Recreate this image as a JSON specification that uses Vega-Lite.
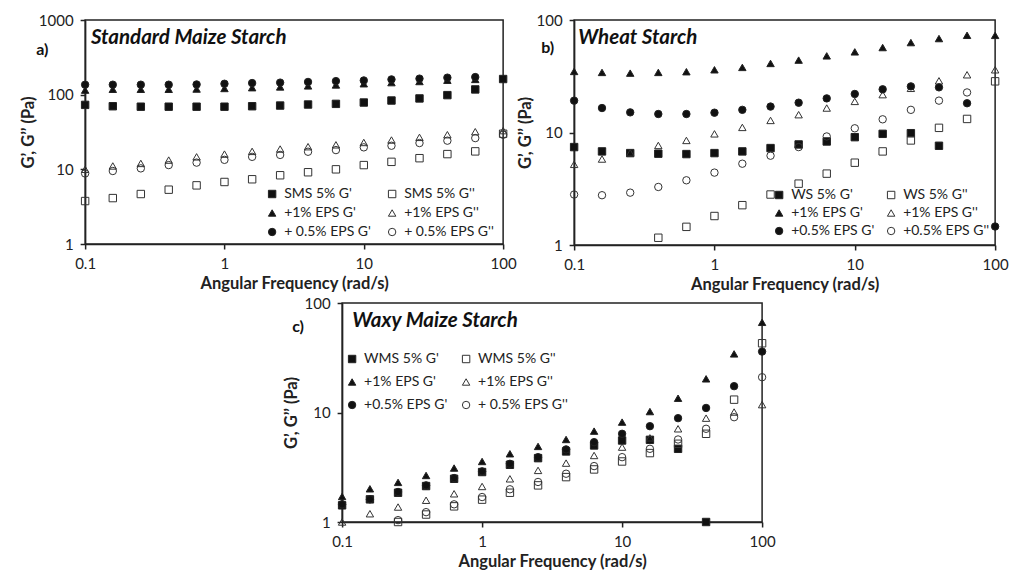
{
"$schema": "https://vega.github.io/schema/vega-lite/v6.json",
"padding": {"left": 19, "top": 12, "right": 5, "bottom": 3},
"config": {
  "font": "Lato",
  "view": {"stroke": "#222", "strokeWidth": 1.5},
  "axis": {"grid": false, "domainColor": "#222", "domainWidth": 1.5, "tickColor": "#222", "tickWidth": 1.5, "tickSize": 5, "labelFont": "Lato", "labelFontSize": 15, "labelColor": "#222", "labelPadding": 7, "titleFont": "Lato", "titleFontSize": 16.5, "titleFontWeight": "bold", "titleColor": "#222", "labelFlush": false, "labelOverlap": false},
  "legend": {"orient": "none", "columns": 2, "title": null, "labelFont": "Lato", "labelFontSize": 14, "labelColor": "#222", "symbolSize": 55, "symbolStrokeColor": "#222", "symbolStrokeWidth": 1, "labelOffset": 5, "rowPadding": 5}
},
"datasets": {
  "a": [
    {"f":0.1,"v":73,"s":"SMS 5% G'"},{"f":0.158,"v":70,"s":"SMS 5% G'"},{"f":0.251,"v":69,"s":"SMS 5% G'"},{"f":0.398,"v":69,"s":"SMS 5% G'"},{"f":0.631,"v":69,"s":"SMS 5% G'"},{"f":1,"v":69,"s":"SMS 5% G'"},{"f":1.58,"v":70,"s":"SMS 5% G'"},{"f":2.51,"v":71.5,"s":"SMS 5% G'"},{"f":3.98,"v":73.8,"s":"SMS 5% G'"},{"f":6.31,"v":75.3,"s":"SMS 5% G'"},{"f":10,"v":78.5,"s":"SMS 5% G'"},{"f":15.8,"v":83.5,"s":"SMS 5% G'"},{"f":25.1,"v":89,"s":"SMS 5% G'"},{"f":39.8,"v":98.6,"s":"SMS 5% G'"},{"f":63.1,"v":117.5,"s":"SMS 5% G'"},{"f":100,"v":162,"s":"SMS 5% G'"},
    {"f":0.1,"v":3.76,"s":"SMS 5% G''"},{"f":0.158,"v":4.12,"s":"SMS 5% G''"},{"f":0.251,"v":4.67,"s":"SMS 5% G''"},{"f":0.398,"v":5.34,"s":"SMS 5% G''"},{"f":0.631,"v":6.1,"s":"SMS 5% G''"},{"f":1,"v":6.77,"s":"SMS 5% G''"},{"f":1.58,"v":7.36,"s":"SMS 5% G''"},{"f":2.51,"v":8.33,"s":"SMS 5% G''"},{"f":3.98,"v":9.14,"s":"SMS 5% G''"},{"f":6.31,"v":10,"s":"SMS 5% G''"},{"f":10,"v":11.4,"s":"SMS 5% G''"},{"f":15.8,"v":12.6,"s":"SMS 5% G''"},{"f":25.1,"v":14.1,"s":"SMS 5% G''"},{"f":39.8,"v":16,"s":"SMS 5% G''"},{"f":63.1,"v":17.4,"s":"SMS 5% G''"},{"f":100,"v":30,"s":"SMS 5% G''"},
    {"f":0.1,"v":115,"s":"+1% EPS G'"},{"f":0.158,"v":118,"s":"+1% EPS G'"},{"f":0.251,"v":118,"s":"+1% EPS G'"},{"f":0.398,"v":118,"s":"+1% EPS G'"},{"f":0.631,"v":119,"s":"+1% EPS G'"},{"f":1,"v":121,"s":"+1% EPS G'"},{"f":1.58,"v":124,"s":"+1% EPS G'"},{"f":2.51,"v":127,"s":"+1% EPS G'"},{"f":3.98,"v":131,"s":"+1% EPS G'"},{"f":6.31,"v":135,"s":"+1% EPS G'"},{"f":10,"v":140,"s":"+1% EPS G'"},{"f":15.8,"v":145,"s":"+1% EPS G'"},{"f":25.1,"v":150,"s":"+1% EPS G'"},{"f":39.8,"v":156,"s":"+1% EPS G'"},{"f":63.1,"v":160,"s":"+1% EPS G'"},
    {"f":0.1,"v":10,"s":"+1% EPS G''"},{"f":0.158,"v":11.1,"s":"+1% EPS G''"},{"f":0.251,"v":12,"s":"+1% EPS G''"},{"f":0.398,"v":13.3,"s":"+1% EPS G''"},{"f":0.631,"v":14.7,"s":"+1% EPS G''"},{"f":1,"v":16,"s":"+1% EPS G''"},{"f":1.58,"v":17.4,"s":"+1% EPS G''"},{"f":2.51,"v":18.7,"s":"+1% EPS G''"},{"f":3.98,"v":20.1,"s":"+1% EPS G''"},{"f":6.31,"v":21.3,"s":"+1% EPS G''"},{"f":10,"v":22.9,"s":"+1% EPS G''"},{"f":15.8,"v":24.7,"s":"+1% EPS G''"},{"f":25.1,"v":26.8,"s":"+1% EPS G''"},{"f":39.8,"v":29.1,"s":"+1% EPS G''"},{"f":63.1,"v":31.9,"s":"+1% EPS G''"},{"f":100,"v":33,"s":"+1% EPS G''"},
    {"f":0.1,"v":136,"s":"+ 0.5% EPS G'"},{"f":0.158,"v":136,"s":"+ 0.5% EPS G'"},{"f":0.251,"v":136,"s":"+ 0.5% EPS G'"},{"f":0.398,"v":136,"s":"+ 0.5% EPS G'"},{"f":0.631,"v":137,"s":"+ 0.5% EPS G'"},{"f":1,"v":140,"s":"+ 0.5% EPS G'"},{"f":1.58,"v":143,"s":"+ 0.5% EPS G'"},{"f":2.51,"v":145,"s":"+ 0.5% EPS G'"},{"f":3.98,"v":148,"s":"+ 0.5% EPS G'"},{"f":6.31,"v":152,"s":"+ 0.5% EPS G'"},{"f":10,"v":155,"s":"+ 0.5% EPS G'"},{"f":15.8,"v":160,"s":"+ 0.5% EPS G'"},{"f":25.1,"v":164,"s":"+ 0.5% EPS G'"},{"f":39.8,"v":169,"s":"+ 0.5% EPS G'"},{"f":63.1,"v":172,"s":"+ 0.5% EPS G'"},
    {"f":0.1,"v":8.8,"s":"+ 0.5% EPS G''"},{"f":0.158,"v":9.5,"s":"+ 0.5% EPS G''"},{"f":0.251,"v":10.3,"s":"+ 0.5% EPS G''"},{"f":0.398,"v":11.4,"s":"+ 0.5% EPS G''"},{"f":0.631,"v":12.3,"s":"+ 0.5% EPS G''"},{"f":1,"v":13.4,"s":"+ 0.5% EPS G''"},{"f":1.58,"v":14.7,"s":"+ 0.5% EPS G''"},{"f":2.51,"v":15.6,"s":"+ 0.5% EPS G''"},{"f":3.98,"v":17.2,"s":"+ 0.5% EPS G''"},{"f":6.31,"v":18.1,"s":"+ 0.5% EPS G''"},{"f":10,"v":19.7,"s":"+ 0.5% EPS G''"},{"f":15.8,"v":20.7,"s":"+ 0.5% EPS G''"},{"f":25.1,"v":22.5,"s":"+ 0.5% EPS G''"},{"f":39.8,"v":24.2,"s":"+ 0.5% EPS G''"},{"f":63.1,"v":26.2,"s":"+ 0.5% EPS G''"},{"f":100,"v":29,"s":"+ 0.5% EPS G''"}
  ],
  "b": [
    {"f":0.1,"v":7.42,"s":"WS 5% G'"},{"f":0.158,"v":6.79,"s":"WS 5% G'"},{"f":0.251,"v":6.56,"s":"WS 5% G'"},{"f":0.398,"v":6.48,"s":"WS 5% G'"},{"f":0.631,"v":6.43,"s":"WS 5% G'"},{"f":1,"v":6.56,"s":"WS 5% G'"},{"f":1.58,"v":6.79,"s":"WS 5% G'"},{"f":2.51,"v":7.27,"s":"WS 5% G'"},{"f":3.98,"v":7.83,"s":"WS 5% G'"},{"f":6.31,"v":8.32,"s":"WS 5% G'"},{"f":10,"v":9.09,"s":"WS 5% G'"},{"f":15.8,"v":9.73,"s":"WS 5% G'"},{"f":25.1,"v":9.86,"s":"WS 5% G'"},{"f":39.8,"v":7.62,"s":"WS 5% G'"},
    {"f":0.398,"v":1.16,"s":"WS 5% G''"},{"f":0.631,"v":1.45,"s":"WS 5% G''"},{"f":1,"v":1.81,"s":"WS 5% G''"},{"f":1.58,"v":2.26,"s":"WS 5% G''"},{"f":2.51,"v":2.81,"s":"WS 5% G''"},{"f":3.98,"v":3.51,"s":"WS 5% G''"},{"f":6.31,"v":4.31,"s":"WS 5% G''"},{"f":10,"v":5.39,"s":"WS 5% G''"},{"f":15.8,"v":6.79,"s":"WS 5% G''"},{"f":25.1,"v":8.5,"s":"WS 5% G''"},{"f":39.8,"v":11,"s":"WS 5% G''"},{"f":63.1,"v":13.2,"s":"WS 5% G''"},{"f":100,"v":28.5,"s":"WS 5% G''"},
    {"f":0.1,"v":34.9,"s":"+1% EPS G'"},{"f":0.158,"v":34.2,"s":"+1% EPS G'"},{"f":0.251,"v":33.7,"s":"+1% EPS G'"},{"f":0.398,"v":34.2,"s":"+1% EPS G'"},{"f":0.631,"v":34.7,"s":"+1% EPS G'"},{"f":1,"v":36.1,"s":"+1% EPS G'"},{"f":1.58,"v":37.9,"s":"+1% EPS G'"},{"f":2.51,"v":41.1,"s":"+1% EPS G'"},{"f":3.98,"v":44,"s":"+1% EPS G'"},{"f":6.31,"v":48,"s":"+1% EPS G'"},{"f":10,"v":52.1,"s":"+1% EPS G'"},{"f":15.8,"v":56.9,"s":"+1% EPS G'"},{"f":25.1,"v":63,"s":"+1% EPS G'"},{"f":39.8,"v":68.4,"s":"+1% EPS G'"},{"f":63.1,"v":73.1,"s":"+1% EPS G'"},{"f":100,"v":73,"s":"+1% EPS G'"},
    {"f":0.1,"v":5.21,"s":" +1% EPS G''"},{"f":0.158,"v":5.81,"s":" +1% EPS G''"},{"f":0.251,"v":6.6,"s":" +1% EPS G''"},{"f":0.398,"v":7.67,"s":" +1% EPS G''"},{"f":0.631,"v":8.5,"s":" +1% EPS G''"},{"f":1,"v":9.73,"s":" +1% EPS G''"},{"f":1.58,"v":11.1,"s":" +1% EPS G''"},{"f":2.51,"v":12.8,"s":" +1% EPS G''"},{"f":3.98,"v":14.4,"s":" +1% EPS G''"},{"f":6.31,"v":16.5,"s":" +1% EPS G''"},{"f":10,"v":18.9,"s":" +1% EPS G''"},{"f":15.8,"v":21.7,"s":" +1% EPS G''"},{"f":25.1,"v":24.7,"s":" +1% EPS G''"},{"f":39.8,"v":28.8,"s":" +1% EPS G''"},{"f":63.1,"v":32.6,"s":" +1% EPS G''"},{"f":100,"v":36.1,"s":" +1% EPS G''"},
    {"f":0.1,"v":19.2,"s":"+0.5% EPS G'"},{"f":0.158,"v":16.5,"s":"+0.5% EPS G'"},{"f":0.251,"v":15.1,"s":"+0.5% EPS G'"},{"f":0.398,"v":14.6,"s":"+0.5% EPS G'"},{"f":0.631,"v":14.6,"s":"+0.5% EPS G'"},{"f":1,"v":15,"s":"+0.5% EPS G'"},{"f":1.58,"v":15.9,"s":"+0.5% EPS G'"},{"f":2.51,"v":17,"s":"+0.5% EPS G'"},{"f":3.98,"v":18.4,"s":"+0.5% EPS G'"},{"f":6.31,"v":20.1,"s":"+0.5% EPS G'"},{"f":10,"v":22,"s":"+0.5% EPS G'"},{"f":15.8,"v":24.2,"s":"+0.5% EPS G'"},{"f":25.1,"v":25.7,"s":"+0.5% EPS G'"},{"f":39.8,"v":25.2,"s":"+0.5% EPS G'"},{"f":63.1,"v":18.2,"s":"+0.5% EPS G'"},{"f":100,"v":1.46,"s":"+0.5% EPS G'"},
    {"f":0.1,"v":2.81,"s":"+0.5% EPS G''"},{"f":0.158,"v":2.77,"s":"+0.5% EPS G''"},{"f":0.251,"v":2.92,"s":"+0.5% EPS G''"},{"f":0.398,"v":3.28,"s":"+0.5% EPS G''"},{"f":0.631,"v":3.76,"s":"+0.5% EPS G''"},{"f":1,"v":4.4,"s":"+0.5% EPS G''"},{"f":1.58,"v":5.28,"s":"+0.5% EPS G''"},{"f":2.51,"v":6.22,"s":"+0.5% EPS G''"},{"f":3.98,"v":7.42,"s":"+0.5% EPS G''"},{"f":6.31,"v":9.22,"s":"+0.5% EPS G''"},{"f":10,"v":10.9,"s":"+0.5% EPS G''"},{"f":15.8,"v":13.1,"s":"+0.5% EPS G''"},{"f":25.1,"v":15.9,"s":"+0.5% EPS G''"},{"f":39.8,"v":19.2,"s":"+0.5% EPS G''"},{"f":63.1,"v":22.7,"s":"+0.5% EPS G''"}
  ],
  "c": [
    {"f":0.1,"v":1.42,"s":"WMS 5% G'"},{"f":0.158,"v":1.61,"s":"WMS 5% G'"},{"f":0.251,"v":1.85,"s":"WMS 5% G'"},{"f":0.398,"v":2.13,"s":"WMS 5% G'"},{"f":0.631,"v":2.48,"s":"WMS 5% G'"},{"f":1,"v":2.86,"s":"WMS 5% G'"},{"f":1.58,"v":3.33,"s":"WMS 5% G'"},{"f":2.51,"v":3.83,"s":"WMS 5% G'"},{"f":3.98,"v":4.41,"s":"WMS 5% G'"},{"f":6.31,"v":5,"s":"WMS 5% G'"},{"f":10,"v":5.55,"s":"WMS 5% G'"},{"f":15.8,"v":5.63,"s":"WMS 5% G'"},{"f":25.1,"v":4.66,"s":"WMS 5% G'"},{"f":39.8,"v":1,"s":"WMS 5% G'"},
    {"f":0.251,"v":1,"s":"WMS 5% G''"},{"f":0.398,"v":1.17,"s":"WMS 5% G''"},{"f":0.631,"v":1.39,"s":"WMS 5% G''"},{"f":1,"v":1.6,"s":"WMS 5% G''"},{"f":1.58,"v":1.85,"s":"WMS 5% G''"},{"f":2.51,"v":2.16,"s":"WMS 5% G''"},{"f":3.98,"v":2.57,"s":"WMS 5% G''"},{"f":6.31,"v":3.02,"s":"WMS 5% G''"},{"f":10,"v":3.57,"s":"WMS 5% G''"},{"f":15.8,"v":4.26,"s":"WMS 5% G''"},{"f":25.1,"v":5.18,"s":"WMS 5% G''"},{"f":39.8,"v":6.39,"s":"WMS 5% G''"},{"f":63.1,"v":13.1,"s":"WMS 5% G''"},{"f":100,"v":42.9,"s":"WMS 5% G''"},
    {"f":0.1,"v":1.71,"s":"+1% EPS G'"},{"f":0.158,"v":2.01,"s":"+1% EPS G'"},{"f":0.251,"v":2.3,"s":"+1% EPS G'"},{"f":0.398,"v":2.66,"s":"+1% EPS G'"},{"f":0.631,"v":3.11,"s":"+1% EPS G'"},{"f":1,"v":3.57,"s":"+1% EPS G'"},{"f":1.58,"v":4.2,"s":"+1% EPS G'"},{"f":2.51,"v":4.9,"s":"+1% EPS G'"},{"f":3.98,"v":5.67,"s":"+1% EPS G'"},{"f":6.31,"v":6.76,"s":"+1% EPS G'"},{"f":10,"v":8.17,"s":"+1% EPS G'"},{"f":15.8,"v":10.2,"s":"+1% EPS G'"},{"f":25.1,"v":13.5,"s":"+1% EPS G'"},{"f":39.8,"v":20.3,"s":"+1% EPS G'"},{"f":63.1,"v":34.3,"s":"+1% EPS G'"},{"f":100,"v":66.6,"s":"+1% EPS G'"},
    {"f":0.1,"v":1,"s":"+1% EPS G''"},{"f":0.158,"v":1.19,"s":"+1% EPS G''"},{"f":0.251,"v":1.37,"s":"+1% EPS G''"},{"f":0.398,"v":1.58,"s":"+1% EPS G''"},{"f":0.631,"v":1.81,"s":"+1% EPS G''"},{"f":1,"v":2.11,"s":"+1% EPS G''"},{"f":1.58,"v":2.48,"s":"+1% EPS G''"},{"f":2.51,"v":2.96,"s":"+1% EPS G''"},{"f":3.98,"v":3.45,"s":"+1% EPS G''"},{"f":6.31,"v":4.05,"s":"+1% EPS G''"},{"f":10,"v":4.83,"s":"+1% EPS G''"},{"f":15.8,"v":5.87,"s":"+1% EPS G''"},{"f":25.1,"v":7.1,"s":"+1% EPS G''"},{"f":39.8,"v":8.88,"s":"+1% EPS G''"},{"f":63.1,"v":10.1,"s":"+1% EPS G''"},{"f":100,"v":11.8,"s":"+1% EPS G''"},
    {"f":0.1,"v":1.45,"s":"+0.5% EPS G'"},{"f":0.158,"v":1.61,"s":"+0.5% EPS G'"},{"f":0.251,"v":1.88,"s":"+0.5% EPS G'"},{"f":0.398,"v":2.16,"s":"+0.5% EPS G'"},{"f":0.631,"v":2.52,"s":"+0.5% EPS G'"},{"f":1,"v":2.9,"s":"+0.5% EPS G'"},{"f":1.58,"v":3.4,"s":"+0.5% EPS G'"},{"f":2.51,"v":3.91,"s":"+0.5% EPS G'"},{"f":3.98,"v":4.6,"s":"+0.5% EPS G'"},{"f":6.31,"v":5.36,"s":"+0.5% EPS G'"},{"f":10,"v":6.39,"s":"+0.5% EPS G'"},{"f":15.8,"v":7.5,"s":"+0.5% EPS G'"},{"f":25.1,"v":8.88,"s":"+0.5% EPS G'"},{"f":39.8,"v":11,"s":"+0.5% EPS G'"},{"f":63.1,"v":17.4,"s":"+0.5% EPS G'"},{"f":100,"v":36,"s":"+0.5% EPS G'"},
    {"f":0.251,"v":1.04,"s":"+ 0.5% EPS G''"},{"f":0.398,"v":1.23,"s":"+ 0.5% EPS G''"},{"f":0.631,"v":1.45,"s":"+ 0.5% EPS G''"},{"f":1,"v":1.69,"s":"+ 0.5% EPS G''"},{"f":1.58,"v":1.99,"s":"+ 0.5% EPS G''"},{"f":2.51,"v":2.32,"s":"+ 0.5% EPS G''"},{"f":3.98,"v":2.76,"s":"+ 0.5% EPS G''"},{"f":6.31,"v":3.24,"s":"+ 0.5% EPS G''"},{"f":10,"v":3.91,"s":"+ 0.5% EPS G''"},{"f":15.8,"v":4.66,"s":"+ 0.5% EPS G''"},{"f":25.1,"v":5.67,"s":"+ 0.5% EPS G''"},{"f":39.8,"v":7.1,"s":"+ 0.5% EPS G''"},{"f":63.1,"v":9.06,"s":"+ 0.5% EPS G''"},{"f":100,"v":21,"s":"+ 0.5% EPS G''"}
  ]
},
"center": true,
"spacing": 1,
"resolve": {"scale": {"x": "independent", "y": "independent", "shape": "independent", "fill": "independent", "stroke": "independent"}, "legend": {"shape": "independent", "fill": "independent", "stroke": "independent"}},
"vconcat": [
  {
    "bounds": "flush",
    "spacing": 71,
    "resolve": {"scale": {"x": "independent", "y": "independent", "shape": "independent", "fill": "independent", "stroke": "independent"}, "legend": {"shape": "independent", "fill": "independent", "stroke": "independent"}},
    "hconcat": [
      {
        "width": 418, "height": 224,
        "encoding": {
          "x": {"field": "f", "type": "quantitative", "scale": {"type": "log", "domain": [0.1, 100]}, "axis": {"values": [0.1, 1, 10, 100], "format": "~g", "title": "Angular Frequency (rad/s)"}},
          "y": {"field": "v", "type": "quantitative", "scale": {"type": "log", "domain": [1, 1000]}, "axis": {"values": [1, 10, 100, 1000], "format": "~g", "title": "G’, G’’ (Pa)", "titlePadding": 2}}
        },
        "layer": [
          {
            "data": {"name": "a"},
            "mark": {"type": "point", "filled": true, "size": 55, "strokeWidth": 1, "opacity": 1},
            "encoding": {
              "shape": {"field": "s", "type": "nominal", "scale": {"domain": ["SMS 5% G'", "+1% EPS G'", "+ 0.5% EPS G'", "SMS 5% G''", "+1% EPS G''", "+ 0.5% EPS G''"], "range": ["square", "triangle-up", "circle", "square", "triangle-up", "circle"]}, "legend": {"legendX": 180, "legendY": 167, "columnPadding": 14, "rowPadding": 5}},
              "fill": {"field": "s", "type": "nominal", "scale": {"domain": ["SMS 5% G'", "+1% EPS G'", "+ 0.5% EPS G'", "SMS 5% G''", "+1% EPS G''", "+ 0.5% EPS G''"], "range": ["#111", "#111", "#111", "transparent", "transparent", "transparent"]}, "legend": {"legendX": 180, "legendY": 167, "columnPadding": 14, "rowPadding": 5}},
              "stroke": {"field": "s", "type": "nominal", "scale": {"domain": ["SMS 5% G'", "+1% EPS G'", "+ 0.5% EPS G'", "SMS 5% G''", "+1% EPS G''", "+ 0.5% EPS G''"], "range": ["#222", "#222", "#222", "#333", "#333", "#333"]}, "legend": {"legendX": 180, "legendY": 167, "columnPadding": 14, "rowPadding": 5}}
            }
          },
          {
            "data": {"values": [{"t": "Standard Maize Starch", "f": 0.11, "v": 573}]},
            "mark": {"type": "text", "align": "left", "baseline": "middle", "fontSize": 20.5, "fontWeight": "bold", "fontStyle": "italic", "color": "#111"},
            "encoding": {"text": {"field": "t"}}
          },
          {
            "data": {"values": [{"t": "a)", "f": 0.0445, "v": 394}]},
            "mark": {"type": "text", "align": "left", "baseline": "middle", "fontSize": 16, "fontWeight": "bold", "color": "#111"},
            "encoding": {"text": {"field": "t"}}
          }
        ]
      },
      {
        "width": 421, "height": 225,
        "encoding": {
          "x": {"field": "f", "type": "quantitative", "scale": {"type": "log", "domain": [0.1, 100]}, "axis": {"values": [0.1, 1, 10, 100], "format": "~g", "title": "Angular Frequency (rad/s)"}},
          "y": {"field": "v", "type": "quantitative", "scale": {"type": "log", "domain": [1, 100]}, "axis": {"values": [1, 10, 100], "format": "~g", "title": "G’, G’’ (Pa)", "titlePadding": 3}}
        },
        "layer": [
          {
            "data": {"name": "b"},
            "mark": {"type": "point", "filled": true, "size": 55, "strokeWidth": 1, "opacity": 1},
            "encoding": {
              "shape": {"field": "s", "type": "nominal", "scale": {"domain": ["WS 5% G'", "+1% EPS G'", "+0.5% EPS G'", "WS 5% G''", " +1% EPS G''", "+0.5% EPS G''"], "range": ["square", "triangle-up", "circle", "square", "triangle-up", "circle"]}, "legend": {"legendX": 198, "legendY": 168, "columnPadding": 9, "rowPadding": 4, "labelExpr": "datum.index == 5 ? datum.label + '\u2003\u2003\u2003\u2003\u200b' : datum.label"}},
              "fill": {"field": "s", "type": "nominal", "scale": {"domain": ["WS 5% G'", "+1% EPS G'", "+0.5% EPS G'", "WS 5% G''", " +1% EPS G''", "+0.5% EPS G''"], "range": ["#111", "#111", "#111", "transparent", "transparent", "transparent"]}, "legend": {"legendX": 198, "legendY": 168, "columnPadding": 9, "rowPadding": 4, "labelExpr": "datum.index == 5 ? datum.label + '\u2003\u2003\u2003\u2003\u200b' : datum.label"}},
              "stroke": {"field": "s", "type": "nominal", "scale": {"domain": ["WS 5% G'", "+1% EPS G'", "+0.5% EPS G'", "WS 5% G''", " +1% EPS G''", "+0.5% EPS G''"], "range": ["#222", "#222", "#222", "#333", "#333", "#333"]}, "legend": {"legendX": 198, "legendY": 168, "columnPadding": 9, "rowPadding": 4, "labelExpr": "datum.index == 5 ? datum.label + '\u2003\u2003\u2003\u2003\u200b' : datum.label"}}
            }
          },
          {
            "data": {"values": [{"t": "Wheat Starch", "f": 0.107, "v": 69.3}]},
            "mark": {"type": "text", "align": "left", "baseline": "middle", "fontSize": 20.5, "fontWeight": "bold", "fontStyle": "italic", "color": "#111"},
            "encoding": {"text": {"field": "t"}}
          },
          {
            "data": {"values": [{"t": "b)", "f": 0.0582, "v": 56.5}]},
            "mark": {"type": "text", "align": "left", "baseline": "middle", "fontSize": 16, "fontWeight": "bold", "color": "#111"},
            "encoding": {"text": {"field": "t"}}
          }
        ]
      }
    ]
  },
  {
    "width": 420, "height": 219,
    "encoding": {
      "x": {"field": "f", "type": "quantitative", "scale": {"type": "log", "domain": [0.1, 100]}, "axis": {"values": [0.1, 1, 10, 100], "format": "~g", "title": "Angular Frequency (rad/s)"}},
      "y": {"field": "v", "type": "quantitative", "scale": {"type": "log", "domain": [1, 100]}, "axis": {"values": [1, 10, 100], "format": "~g", "title": "G’, G’’ (Pa)", "titlePadding": 5}}
    },
    "layer": [
      {
        "data": {"name": "c"},
        "mark": {"type": "point", "filled": true, "size": 55, "strokeWidth": 1, "opacity": 1},
        "encoding": {
          "shape": {"field": "s", "type": "nominal", "scale": {"domain": ["WMS 5% G'", "+1% EPS G'", "+0.5% EPS G'", "WMS 5% G''", "+1% EPS G''", "+ 0.5% EPS G''"], "range": ["square", "triangle-up", "circle", "square", "triangle-up", "circle"]}, "legend": {"legendX": 3, "legendY": 49, "columnPadding": 11, "rowPadding": 9}},
          "fill": {"field": "s", "type": "nominal", "scale": {"domain": ["WMS 5% G'", "+1% EPS G'", "+0.5% EPS G'", "WMS 5% G''", "+1% EPS G''", "+ 0.5% EPS G''"], "range": ["#111", "#111", "#111", "transparent", "transparent", "transparent"]}, "legend": {"legendX": 3, "legendY": 49, "columnPadding": 11, "rowPadding": 9}},
          "stroke": {"field": "s", "type": "nominal", "scale": {"domain": ["WMS 5% G'", "+1% EPS G'", "+0.5% EPS G'", "WMS 5% G''", "+1% EPS G''", "+ 0.5% EPS G''"], "range": ["#222", "#222", "#222", "#333", "#333", "#333"]}, "legend": {"legendX": 3, "legendY": 49, "columnPadding": 11, "rowPadding": 9}}
        }
      },
      {
        "data": {"values": [{"t": "Waxy Maize Starch", "f": 0.118, "v": 68.5}]},
        "mark": {"type": "text", "align": "left", "baseline": "middle", "fontSize": 20.5, "fontWeight": "bold", "fontStyle": "italic", "color": "#111"},
        "encoding": {"text": {"field": "t"}}
      },
      {
        "data": {"values": [{"t": "c)", "f": 0.044, "v": 60.4}]},
        "mark": {"type": "text", "align": "left", "baseline": "middle", "fontSize": 16, "fontWeight": "bold", "color": "#111"},
        "encoding": {"text": {"field": "t"}}
      }
    ]
  }
]
}
